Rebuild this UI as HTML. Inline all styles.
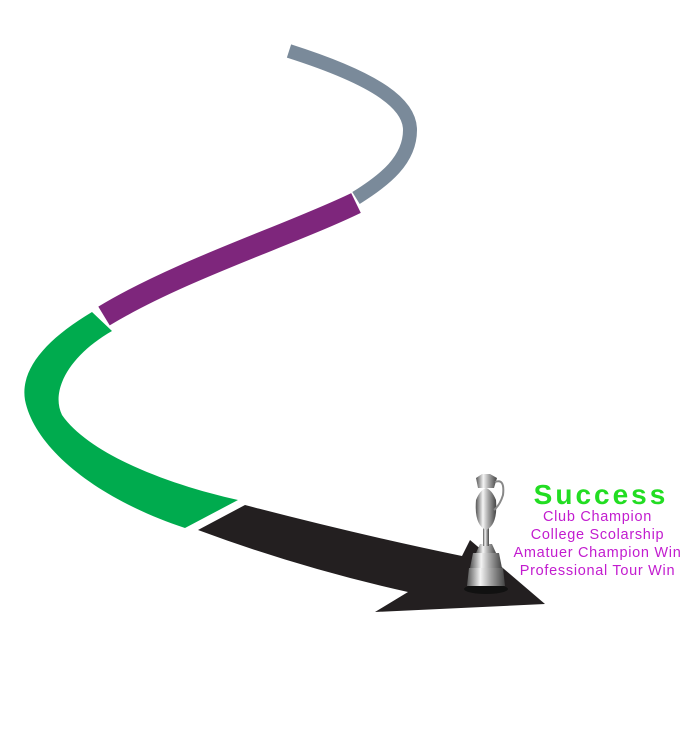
<!DOCTYPE html>
<html><head><style>
html,body{margin:0;padding:0;background:#fff;}
body{width:689px;height:754px;position:relative;overflow:hidden;font-family:"Liberation Sans",sans-serif;}
.t{position:absolute;left:490px;width:215px;text-align:center;color:#c21ccf;font-size:14.5px;line-height:18px;letter-spacing:0.7px;white-space:nowrap;}
</style></head><body>
<svg width="689" height="754" style="position:absolute;left:0;top:0">
<defs>
<linearGradient id="s" x1="0" x2="1">
<stop offset="0" stop-color="#555"/><stop offset="0.35" stop-color="#f4f4f4"/><stop offset="0.6" stop-color="#aaa"/><stop offset="1" stop-color="#444"/>
</linearGradient>
</defs>
<path d="M289,51 C380,80 410,105 410,130 C410,160 385,180 356,198" fill="none" stroke="#7a8a9a" stroke-width="14"/>
<path d="M356,203 C290,235 180,270 104,316" fill="none" stroke="#7e267c" stroke-width="22"/>
<path d="M92,312 C45,340 20,370 25,400 C35,450 100,500 185,528 L238,500 C170,485 90,455 62,415 C50,390 70,355 112,331 Z" fill="#00ab4e"/>
<path d="M198,530 L245,505 Q360,535 462,556 L470,540 L545,604 L375,612 L408,592 Q300,568 198,530 Z" fill="#231f20"/>
<ellipse cx="486" cy="589" rx="22" ry="5" fill="#111"/>
<path d="M467,586 L505,586 L503,568 L469,568 Z" fill="url(#s)"/>
<path d="M470,568 L502,568 L499,553 L473,553 Z" fill="url(#s)"/>
<path d="M476,553 L496,553 L492,544 L480,544 Z" fill="url(#s)"/>
<rect x="483" y="528" width="6" height="18" fill="url(#s)"/>
<path d="M476,500 Q474,525 486,530 Q498,525 496,500 Q492,490 486,488 Q480,490 476,500 Z" fill="url(#s)"/>
<path d="M478,488 L494,488 L497,478 L490,474 L482,474 L476,478 Z" fill="url(#s)"/>
<path d="M495,482 Q505,478 503,495 Q500,505 494,510" fill="none" stroke="#888" stroke-width="2"/>
</svg>
<div style="position:absolute;left:490px;width:222px;top:479px;text-align:center;color:#22dd22;font-size:28px;font-weight:bold;letter-spacing:3px;">Success</div>
<div class="t" style="top:508px">Club Champion</div>
<div class="t" style="top:526px">College Scolarship</div>
<div class="t" style="top:544px">Amatuer Champion Win</div>
<div class="t" style="top:562px">Professional Tour Win</div>
</body></html>
